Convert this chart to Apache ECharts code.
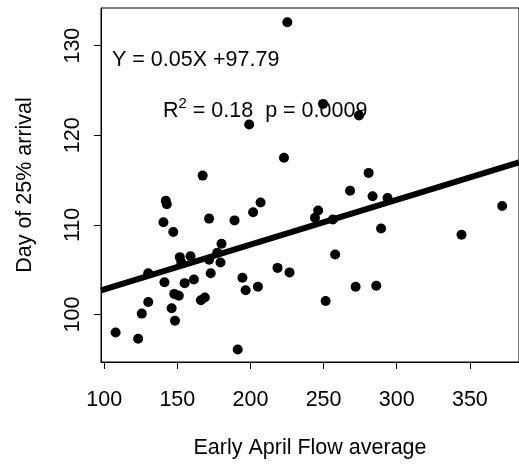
<!DOCTYPE html>
<html>
<head>
<meta charset="utf-8">
<script src="https://cdn.jsdelivr.net/npm/echarts@6/dist/echarts.min.js"></script>
<style>
html,body{margin:0;padding:0;background:#fff;}
#chart{width:519px;height:464px;}
</style>
</head>
<body>
<div id="chart"></div>
<script>
// ---- data ----
const flow = [225.2, 199.1, 249.6, 274.2, 222.9, 280.8, 268.1, 283.5, 293.7, 372.1,
  289.3, 344.3, 206.9, 201.8, 189.1, 246.3, 244.1, 256.3, 257.9, 218.5,
  226.7, 194.5, 196.7, 205.1, 251.4, 271.9, 286.0, 191.3, 167.3, 142.1,
  142.8, 140.5, 147.2, 171.7, 180.2, 177.3, 151.7, 159.0, 171.7, 179.5,
  130.1, 172.8, 141.2, 155.0, 161.3, 147.9, 151.0, 166.1, 168.8, 130.1,
  146.1, 125.7, 148.4, 107.8, 123.2, 152.7];
const arrival = [132.6, 121.2, 123.5, 122.2, 117.5, 115.8, 113.8, 113.2, 113.0, 112.1,
  109.6, 108.9, 112.5, 111.4, 110.5, 111.6, 110.8, 110.6, 106.7, 105.2,
  104.7, 104.1, 102.7, 103.1, 101.5, 103.1, 103.2, 96.1, 115.5, 112.7,
  112.3, 110.3, 109.2, 110.7, 107.9, 106.9, 106.4, 106.5, 106.1, 105.8,
  104.6, 104.6, 103.6, 103.5, 103.9, 102.3, 102.1, 101.6, 101.9, 101.4,
  100.7, 100.1, 99.3, 98.0, 97.3, 105.8];
const xTicks = [100, 150, 200, 250, 300, 350];
const yTicks = [100, 110, 120, 130];
const xLimits = [97.8, 383.6];
const yLimits = [94.7, 134.2];
const slope = 0.05;
const intercept = 97.79;
const eqText = 'Y = 0.05X +97.79';
const r2Value = '0.18';
const pValue = '0.0009';
const xTitle = 'Early April Flow average';
const yTitle = 'Day of 25% arrival';

// ---- build ----
const FONT = "'Liberation Sans', Arial, Helvetica, sans-serif";
const FS = 21.5;
const points = flow.map((x, i) => [x, arrival[i]]);
const fitLine = xLimits.map(x => [x, slope * x + intercept]);

const chart = echarts.init(document.getElementById('chart'), null, {renderer: 'canvas'});
chart.setOption({
  animation: false,
  backgroundColor: '#ffffff',
  grid: {
    left: 101, top: 8, right: -10, bottom: 98,
    show: true, borderColor: '#000', borderWidth: 1, backgroundColor: 'transparent'
  },
  xAxis: {
    type: 'value', min: xLimits[0], max: xLimits[1],
    name: xTitle, nameLocation: 'middle', nameGap: 75,
    nameTextStyle: {color: '#000', fontSize: FS, fontFamily: FONT},
    axisLine: {show: true, onZero: false, lineStyle: {color: '#000', width: 1}},
    axisTick: {show: true, inside: false, length: 7, customValues: xTicks, lineStyle: {color: '#000', width: 1}},
    axisLabel: {show: true, customValues: xTicks, margin: 27, color: '#000', fontSize: FS, fontFamily: FONT},
    splitLine: {show: false}
  },
  yAxis: {
    type: 'value', min: yLimits[0], max: yLimits[1],
    name: yTitle, nameLocation: 'middle', nameGap: 65, nameRotate: 90,
    nameTextStyle: {color: '#000', fontSize: FS, fontFamily: FONT},
    axisLine: {show: true, onZero: false, lineStyle: {color: '#000', width: 1}},
    axisTick: {show: true, inside: false, length: 7, customValues: yTicks, lineStyle: {color: '#000', width: 1}},
    axisLabel: {show: true, customValues: yTicks, rotate: 90, margin: 17, color: '#000', fontSize: FS, fontFamily: FONT},
    splitLine: {show: false}
  },
  series: [
    {
      type: 'scatter', data: points, symbol: 'circle', symbolSize: 10,
      itemStyle: {color: '#000', opacity: 1}, silent: true, z: 3
    },
    {
      type: 'line', data: fitLine, showSymbol: false, symbol: 'none',
      lineStyle: {color: '#000', width: 6, cap: 'butt', opacity: 1}, silent: true, z: 2
    }
  ],
  graphic: [
    {
      type: 'text', left: 112, top: 49, silent: true,
      style: {text: eqText, fill: '#000', fontSize: FS, fontFamily: FONT}
    },
    {
      type: 'text', left: 163, top: 96, silent: true,
      style: {
        text: '{a|R}{s|2}{a| = ' + r2Value + '  p = ' + pValue + '}',
        fill: '#000', fontFamily: FONT,
        rich: {
          a: {fontSize: FS, fontFamily: FONT, fill: '#000', lineHeight: 26, verticalAlign: 'bottom'},
          s: {fontSize: 15, fontFamily: FONT, fill: '#000', lineHeight: 15, verticalAlign: 'top'}
        }
      }
    }
  ]
});
</script>
</body>
</html>
